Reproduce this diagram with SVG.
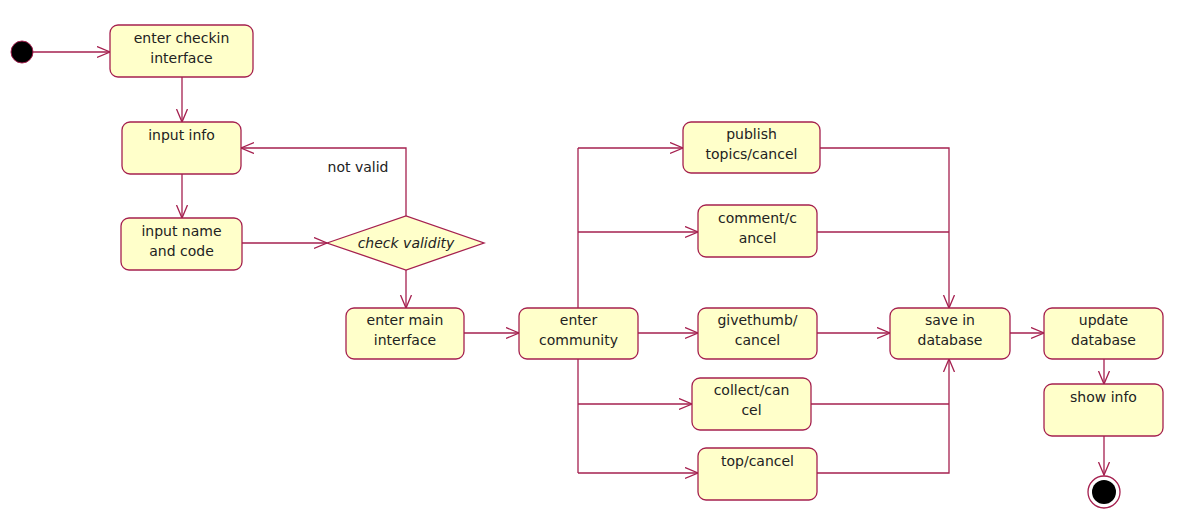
<svg xmlns="http://www.w3.org/2000/svg" width="1184" height="524" viewBox="0 0 1184 524">
  <style>
    .node rect { fill: #FFFFCA; stroke: #A5204F; stroke-width: 1.3; }
    .node polygon { fill: #FFFFCA; stroke: #A5204F; stroke-width: 1.3; }
    text { font-family: "DejaVu Sans", "Liberation Sans", sans-serif; font-size: 14px; fill: #222; text-anchor: middle; }
    .flow { fill: none; stroke: #A5204F; stroke-width: 1.3; }
    .arrow { marker-end: url(#open); }
  </style>
  <defs>
    <marker id="open" markerUnits="userSpaceOnUse" markerWidth="16" markerHeight="14" refX="13" refY="6" orient="auto">
      <path d="M0,0.5 L13,6 L0,11.5" fill="none" stroke="#A5204F" stroke-width="1.3"/>
    </marker>
  </defs>

  <!-- transitions -->
  <g id="connectors">
    <path class="flow arrow" d="M33,52 H110"/>
    <path class="flow arrow" d="M182,77 V122"/>
    <path class="flow arrow" d="M182,174 V218"/>
    <path class="flow arrow" d="M242,243 H327"/>
    <path class="flow arrow" d="M406,216 V148 H241"/>
    <path class="flow arrow" d="M406,270 V308"/>
    <path class="flow arrow" d="M464,333 H519"/>
    <path class="flow" d="M578,308 V148"/>
    <path class="flow" d="M578,359 V473"/>
    <path class="flow arrow" d="M578,148 H683"/>
    <path class="flow arrow" d="M578,232 H698"/>
    <path class="flow arrow" d="M638,333 H698"/>
    <path class="flow arrow" d="M578,404 H692"/>
    <path class="flow arrow" d="M578,473 H698"/>
    <path class="flow arrow" d="M820,148 H949 V308"/>
    <path class="flow" d="M817,232 H949"/>
    <path class="flow arrow" d="M817,333 H890"/>
    <path class="flow" d="M811,404 H949"/>
    <path class="flow arrow" d="M817,473 H949 V359"/>
    <path class="flow arrow" d="M1010,333 H1044"/>
    <path class="flow arrow" d="M1104,359 V384"/>
    <path class="flow arrow" d="M1104,436 V475"/>
    <text x="358" y="172">not valid</text>
  </g>

  <g id="start">
    <circle cx="22" cy="52" r="11" fill="#000" stroke="#A5204F" stroke-width="1"/>
  </g>

  <g id="enter-checkin" class="node">
    <rect x="110" y="25" width="143" height="52" rx="8"/>
    <text x="181.5" y="43">enter checkin</text>
    <text x="181.5" y="63">interface</text>
  </g>

  <g id="input-info" class="node">
    <rect x="122" y="122" width="119" height="52" rx="8"/>
    <text x="181.5" y="140">input info</text>
  </g>

  <g id="input-name" class="node">
    <rect x="121" y="218" width="121" height="52" rx="8"/>
    <text x="181.5" y="236">input name</text>
    <text x="181.5" y="256">and code</text>
  </g>

  <g id="check-validity" class="node">
    <polygon points="327,243 406,216 484,243 406,270"/>
    <text x="406" y="248" font-style="italic">check validity</text>
  </g>

  <g id="enter-main" class="node">
    <rect x="346" y="308" width="118" height="51" rx="8"/>
    <text x="405" y="325">enter main</text>
    <text x="405" y="345">interface</text>
  </g>

  <g id="enter-community" class="node">
    <rect x="519" y="308" width="119" height="51" rx="8"/>
    <text x="578.5" y="325">enter</text>
    <text x="578.5" y="345">community</text>
  </g>

  <g id="publish" class="node">
    <rect x="683" y="122" width="137" height="51" rx="8"/>
    <text x="751.5" y="139">publish</text>
    <text x="751.5" y="159">topics/cancel</text>
  </g>

  <g id="comment" class="node">
    <rect x="698" y="205" width="119" height="52" rx="8"/>
    <text x="757.5" y="223">comment/c</text>
    <text x="757.5" y="243">ancel</text>
  </g>

  <g id="givethumb" class="node">
    <rect x="698" y="308" width="119" height="51" rx="8"/>
    <text x="757.5" y="325">givethumb/</text>
    <text x="757.5" y="345">cancel</text>
  </g>

  <g id="collect" class="node">
    <rect x="692" y="378" width="119" height="52" rx="8"/>
    <text x="751.5" y="395">collect/can</text>
    <text x="751.5" y="415">cel</text>
  </g>

  <g id="top" class="node">
    <rect x="698" y="448" width="119" height="52" rx="8"/>
    <text x="757.5" y="466">top/cancel</text>
  </g>

  <g id="save" class="node">
    <rect x="890" y="308" width="120" height="51" rx="8"/>
    <text x="950" y="325">save in</text>
    <text x="950" y="345">database</text>
  </g>

  <g id="update" class="node">
    <rect x="1044" y="308" width="119" height="51" rx="8"/>
    <text x="1103.5" y="325">update</text>
    <text x="1103.5" y="345">database</text>
  </g>

  <g id="show-info" class="node">
    <rect x="1044" y="384" width="119" height="52" rx="8"/>
    <text x="1103.5" y="402">show info</text>
  </g>

  <g id="end">
    <circle cx="1104" cy="492" r="16" fill="#fff" stroke="#A5204F" stroke-width="1.3"/>
    <circle cx="1104" cy="492" r="12" fill="#000"/>
  </g>
</svg>
